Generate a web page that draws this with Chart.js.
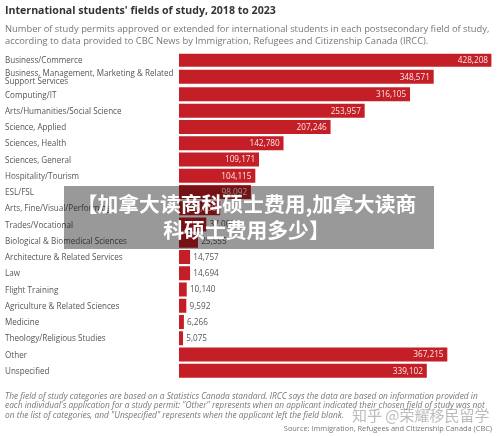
<!DOCTYPE html>
<html><head><meta charset="utf-8">
<script src="https://cdn.jsdelivr.net/npm/chart.js@4/dist/chart.umd.min.js"></script>
<style>
html,body{margin:0;padding:0;background:#fff;width:500px;height:436px;overflow:hidden}
body{position:relative;font-family:"Open Sans",sans-serif}
canvas{position:absolute;left:0;top:0}
.t{position:absolute;white-space:nowrap}
#title{left:5px;top:1px;font:bold 10.6px/18px "Open Sans";color:#333}
#sub{left:5px;top:23px;font:9.35px/11.7px "Open Sans";color:#777}
#note{left:5px;top:390.6px;font:italic 8.35px/9.7px "Open Sans";color:#777}
#src{right:8px;top:424px;font:7.4px/9px "Open Sans";color:#777}
#wm{left:352px;top:405px;font:15px/20px "Noto Sans CJK SC";color:rgba(120,120,120,.5)}
#ov{position:absolute;left:64px;top:186px;width:370px;height:63px;background:rgba(0,0,0,.4);color:#fff;
font:bold 20.8px/26px "Noto Sans CJK SC";text-align:center;padding:3.5px 5px 0 0;box-sizing:border-box}
</style></head><body>
<canvas id="c" width="500" height="436"></canvas>
<div class="t" id="title">International students' fields of study, 2018 to 2023</div>
<div class="t" id="sub">Number of study permits approved or extended for international students in each postsecondary field of study,<br>according to data provided to CBC News by Immigration, Refugees and Citizenship Canada (IRCC).</div>
<div class="t" id="note">The field of study categories are based on a Statistics Canada standard. IRCC says the data are based on information provided in<br>each individual's application for a study permit: "Other" represents when an applicant indicated their chosen field of study was not<br>on the list of categories, and "Unspecified" represents when the applicant left the field blank.</div>
<div class="t" id="src">Source: Immigration, Refugees and Citizenship Canada (CBC)</div>
<div class="t" id="wm">知乎 @荣耀移民留学</div>
<div id="ov">【加拿大读商科硕士费用,加拿大读商<br>科硕士费用多少】</div>
<script>
const categories = ["Business/Commerce",["Business, Management, Marketing & Related","Support Services"],"Computing/IT","Arts/Humanities/Social Science","Science, Applied","Sciences, Health","Sciences, General","Hospitality/Tourism","ESL/FSL","Arts, Fine/Visual/Performing","Trades/Vocational","Biological & Biomedical Sciences","Architecture & Related Services","Law","Flight Training","Agriculture & Related Sciences","Medicine","Theology/Religious Studies","Other","Unspecified"];
const permits = [428208,348571,316105,253957,207246,142780,109171,104115,98092,56000,37000,25555,14757,14694,10140,9592,6266,5075,367215,339102];
const barColor = "#c41f26";
// The top rows of the original sit a little further apart than the rest.
class RowScale extends Chart.CategoryScale {
  getPixelForValue(v){
    const shift=[-2.25,-1.5,-0.15][v]||0;
    return super.getPixelForValue(v)+shift;
  }
}
RowScale.id='rowcat';
RowScale.defaults=Chart.CategoryScale.defaults;
Chart.register(RowScale);
const valueLabels = {id:'valueLabels',afterDatasetsDraw(ch){
  const ctx=ch.ctx,m=ch.getDatasetMeta(0);
  ctx.save();ctx.font='8.2px "Open Sans"';ctx.textBaseline='middle';
  m.data.forEach((b,i)=>{
    const s=permits[i].toLocaleString('en-US');
    if(permits[i]>45000){ctx.fillStyle='#fbe9e9';ctx.textAlign='right';ctx.fillText(s,b.x-3.5,b.y+0.5);}
    else{ctx.fillStyle='#555';ctx.textAlign='left';ctx.fillText(s,b.x+3.5,b.y+0.5);}
  });
  ctx.restore();
}};
new Chart(document.getElementById('c'),{
  type:'bar',
  data:{labels:categories,datasets:[{data:permits,backgroundColor:barColor,barThickness:13.4,borderWidth:0}]},
  plugins:[valueLabels],
  options:{
    indexAxis:'y',responsive:false,animation:false,
    layout:{padding:{left:5,right:8.5,top:53.8,bottom:57.2}},
    plugins:{legend:{display:false},tooltip:{enabled:false}},
    scales:{
      x:{min:0,max:428208,display:false},
      y:{
        type:'rowcat',
        afterFit(s){s.width=174;},
        grid:{display:false},border:{display:false},
        ticks:{crossAlign:'far',autoSkip:false,padding:0,labelOffset:1,color:'#555',font:{family:'"Open Sans"',size:8.1,lineHeight:1.02}}
      }
    }
  }
});
</script>
</body></html>
